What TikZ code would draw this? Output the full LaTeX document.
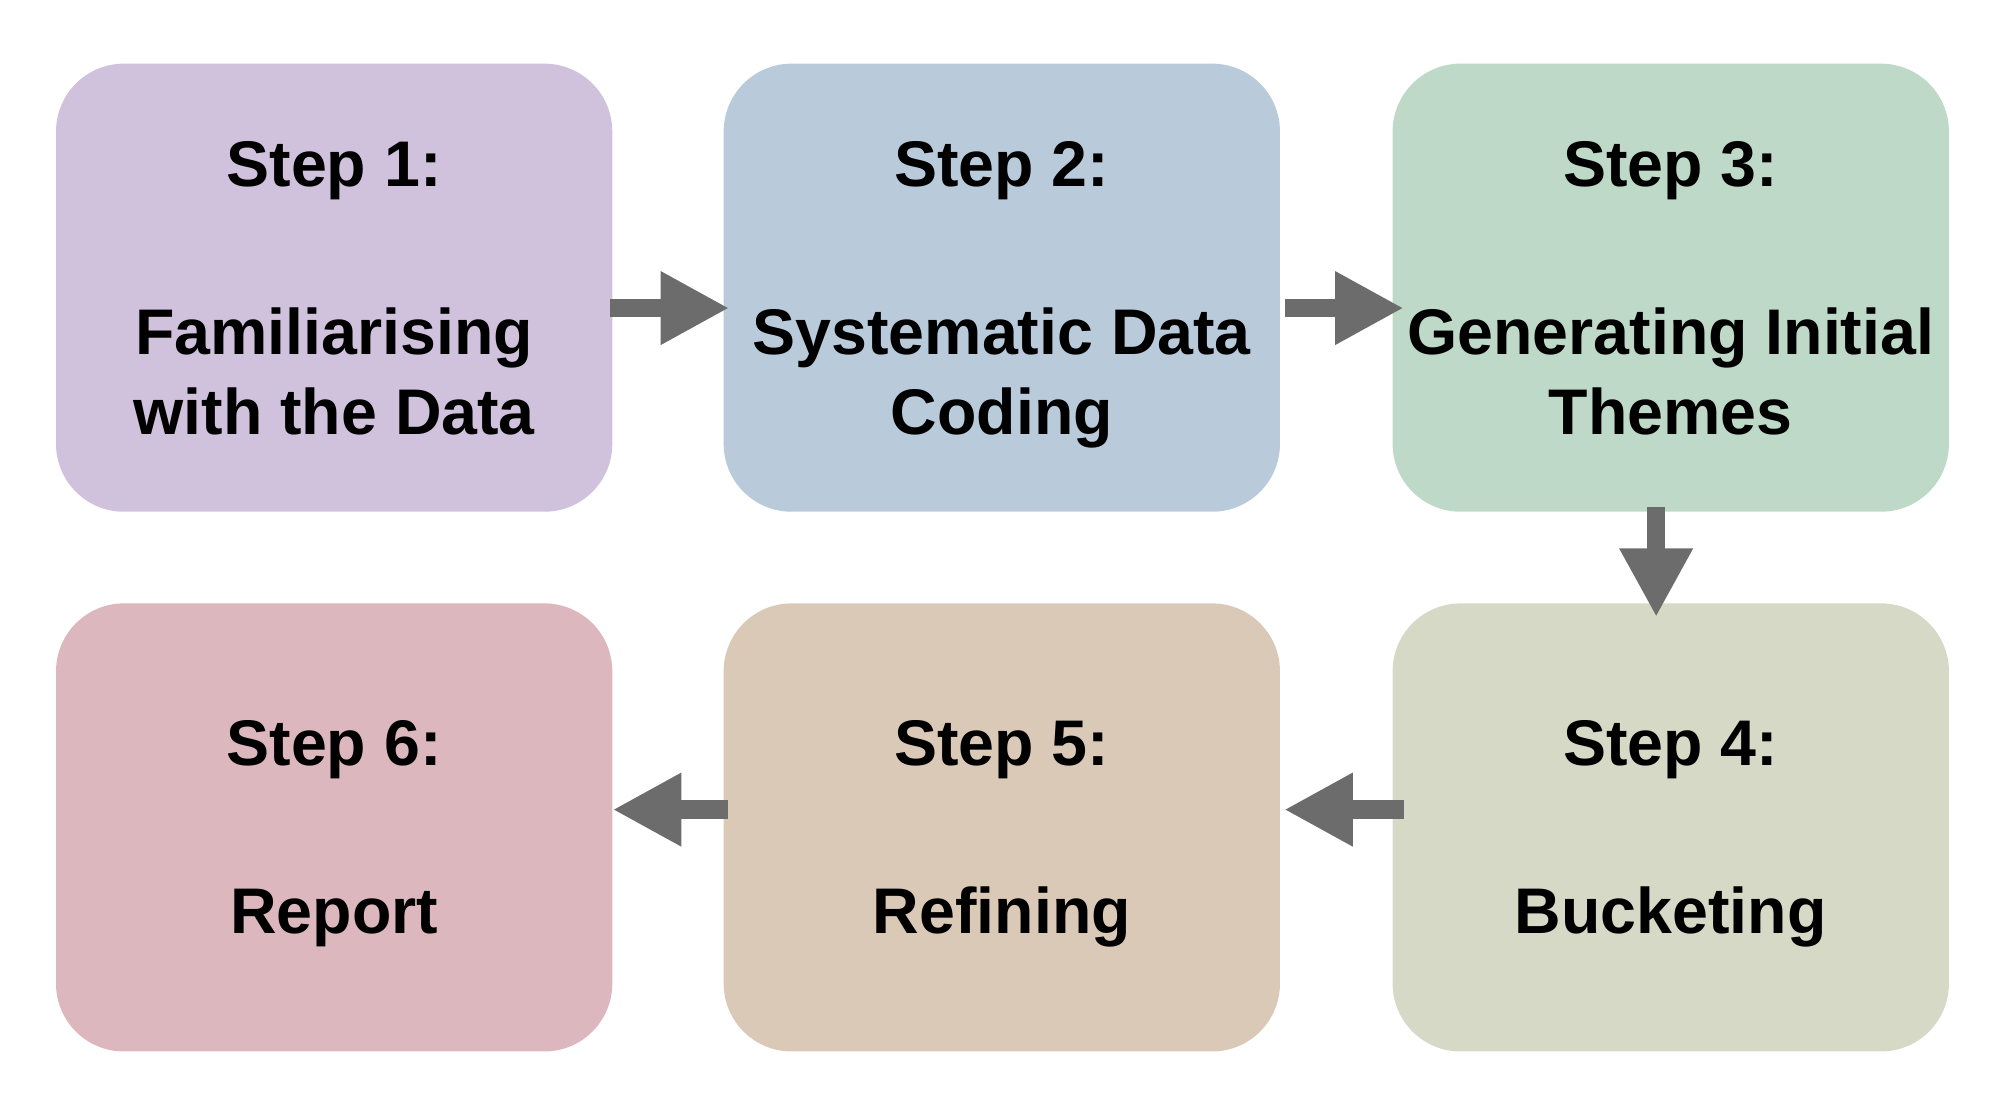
\documentclass[tikz,border=0pt]{standalone}
\usepackage{fontspec}
\setmainfont{Liberation Sans}
\usepackage{xcolor}
\usetikzlibrary{arrows.meta}

\begin{document}
\begin{tikzpicture}[x=0.75pt,y=0.75pt,yscale=-1,xscale=1,
  stepbox/.style={rounded corners=40pt, minimum width=327.75pt, minimum height=264pt, inner sep=0pt, align=center, text depth=0pt, font=\fontsize{38}{47.25}\selectfont\bfseries},
  flow/.style={draw={rgb, 255:red, 108; green, 108; blue, 108 }, line width=10.8pt, -{Triangle[length=40.5pt, width=40.5pt]}}]
%set diagram left start at 0, and has height of 861
\path (0,0) rectangle (1568,861);

%Shape: Rounded Rect
\node [stepbox, fill={rgb, 255:red, 208; green, 194; blue, 220 }] (s1) at (262.5,226) {Step 1:\\[51.75pt]Familiarising\\with the Data};
%Shape: Rounded Rect
\node [stepbox, fill={rgb, 255:red, 185; green, 203; blue, 219 }] (s2) at (787,226) {Step 2:\\[51.75pt]Systematic Data\\Coding};
%Shape: Rounded Rect
\node [stepbox, fill={rgb, 255:red, 190; green, 217; blue, 200 }] (s3) at (1312.5,226) {Step 3:\\[51.75pt]Generating Initial\\Themes};
%Shape: Rounded Rect
\node [stepbox, fill={rgb, 255:red, 213; green, 217; blue, 198 }] (s4) at (1312.5,650) {Step 4:\\[51.75pt]Bucketing};
%Shape: Rounded Rect
\node [stepbox, fill={rgb, 255:red, 219; green, 201; blue, 183 }] (s5) at (787,650) {Step 5:\\[51.75pt]Refining};
%Shape: Rounded Rect
\node [stepbox, fill={rgb, 255:red, 220; green, 183; blue, 190 }] (s6) at (262.5,650) {Step 6:\\[51.75pt]Report};

%Straight Lines
\draw [flow, shorten <=-1.5pt, shorten >=-3.5pt] ([yshift=12pt]s1.east) -- ([yshift=12pt]s2.west);
%Straight Lines
\draw [flow, shorten <=3pt, shorten >=-6.75pt] ([yshift=12pt]s2.east) -- ([yshift=12pt]s3.west);
%Straight Lines
\draw [flow, shorten <=-3pt, shorten >=-8.25pt] ([xshift=-8.6pt]s3.south) -- ([xshift=-8.6pt]s4.north);
%Straight Lines
\draw [flow, shorten <=-6.75pt, shorten >=2.25pt] ([yshift=-10.5pt]s4.west) -- ([yshift=-10.5pt]s5.east);
%Straight Lines
\draw [flow, shorten <=-3pt] ([yshift=-10.5pt]s5.west) -- ([yshift=-10.5pt]s6.east);

\end{tikzpicture}
\end{document}
